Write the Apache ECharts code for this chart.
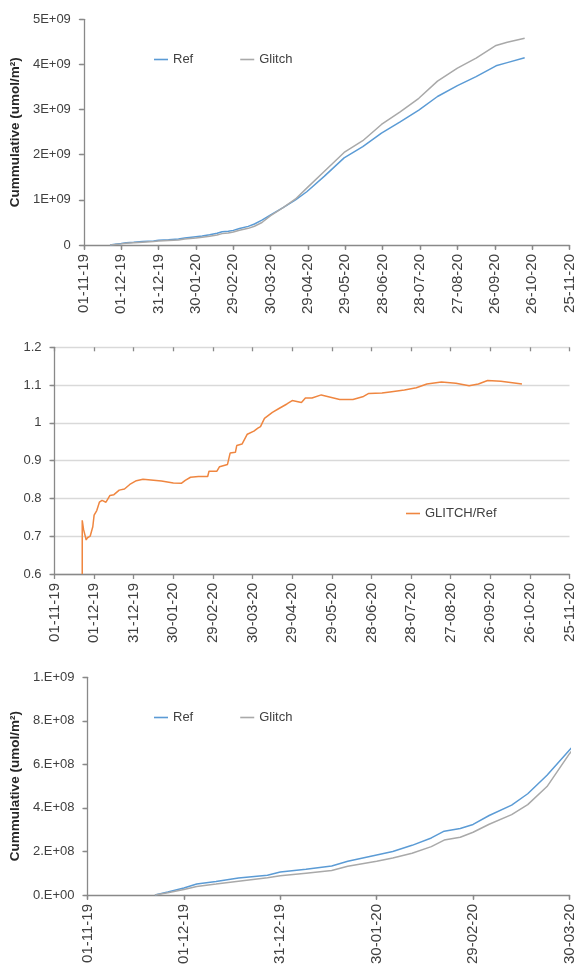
<!DOCTYPE html>
<html>
<head>
<meta charset="utf-8">
<script src="https://cdn.jsdelivr.net/npm/echarts@6/dist/echarts.min.js"></script>
<style>
  html, body { margin: 0; padding: 0; background: #fff; }
  #chart { width: 577px; height: 967px; }
</style>
</head>
<body>
<div id="chart"></div>
<script>
// Cumulative flux, Ref vs Glitch (umol/m2)
const cumDates = [
  '2019-11-22', '2019-11-26', '2019-12-01', '2019-12-05', '2019-12-11', '2019-12-18',
  '2019-12-27', '2019-12-31', '2020-01-08', '2020-01-16', '2020-01-21', '2020-01-30',
  '2020-02-04', '2020-02-10', '2020-02-16', '2020-02-20', '2020-02-25', '2020-02-29',
  '2020-03-05', '2020-03-12', '2020-03-17', '2020-03-23', '2020-03-30', '2020-04-09',
  '2020-04-19', '2020-04-28', '2020-05-12', '2020-05-28', '2020-06-12', '2020-06-27',
  '2020-07-12', '2020-07-27', '2020-08-11', '2020-08-27', '2020-09-11', '2020-09-27',
  '2020-10-06', '2020-10-20'
];
const refCum = [
  0, 1.4e7, 3.2e7, 5.0e7, 6.2e7, 7.8e7,
  9.1e7, 1.05e8, 1.18e8, 1.33e8, 1.55e8, 1.84e8,
  2.00e8, 2.28e8, 2.62e8, 2.93e8, 3.05e8, 3.24e8,
  3.65e8, 4.13e8, 4.65e8, 5.50e8, 6.66e8, 8.3e8,
  1.00e9, 1.18e9, 1.52e9, 1.93e9, 2.18e9, 2.48e9,
  2.73e9, 2.99e9, 3.29e9, 3.53e9, 3.73e9, 3.97e9,
  4.04e9, 4.15e9
];
const glitchCum = [
  0, 1.0e7, 2.5e7, 3.9e7, 5.0e7, 6.3e7,
  7.9e7, 8.8e7, 1.00e8, 1.12e8, 1.32e8, 1.55e8,
  1.70e8, 1.92e8, 2.22e8, 2.52e8, 2.65e8, 2.88e8,
  3.25e8, 3.69e8, 4.15e8, 4.98e8, 6.49e8, 8.3e8,
  1.02e9, 1.26e9, 1.63e9, 2.05e9, 2.31e9, 2.67e9,
  2.95e9, 3.25e9, 3.63e9, 3.92e9, 4.14e9, 4.42e9,
  4.49e9, 4.58e9
];

// Ratio GLITCH/Ref
const ratioDates = [
  '2019-11-22', '2019-11-22', '2019-11-23', '2019-11-24', '2019-11-25', '2019-11-26',
  '2019-11-28', '2019-11-29', '2019-11-30', '2019-12-01', '2019-12-03', '2019-12-05',
  '2019-12-07', '2019-12-10', '2019-12-13', '2019-12-16', '2019-12-20', '2019-12-24',
  '2019-12-28', '2020-01-02', '2020-01-07', '2020-01-13', '2020-01-21', '2020-01-30',
  '2020-02-05', '2020-02-08', '2020-02-12', '2020-02-18', '2020-02-25', '2020-02-26',
  '2020-03-03', '2020-03-05', '2020-03-11', '2020-03-13', '2020-03-17', '2020-03-18',
  '2020-03-22', '2020-03-26', '2020-03-31', '2020-04-03', '2020-04-05', '2020-04-08',
  '2020-04-14', '2020-04-19', '2020-04-25', '2020-04-29', '2020-05-06', '2020-05-09',
  '2020-05-14', '2020-05-21', '2020-05-28', '2020-06-04', '2020-06-14', '2020-06-22',
  '2020-06-26', '2020-07-06', '2020-07-12', '2020-07-23', '2020-08-01', '2020-08-09',
  '2020-08-20', '2020-08-31', '2020-09-10', '2020-09-17', '2020-09-24', '2020-10-04',
  '2020-10-20'
];
const ratioValues = [
  0.600, 0.742, 0.718, 0.720, 0.690, 0.696,
  0.700, 0.702, 0.725, 0.756, 0.768, 0.790,
  0.795, 0.790, 0.808, 0.810, 0.822, 0.825,
  0.837, 0.847, 0.851, 0.849, 0.846, 0.841,
  0.840, 0.848, 0.856, 0.858, 0.858, 0.872,
  0.872, 0.884, 0.890, 0.920, 0.922, 0.940,
  0.944, 0.970, 0.978, 0.986, 0.990, 1.012,
  1.028, 1.038, 1.050, 1.059, 1.054, 1.066,
  1.066, 1.074, 1.068, 1.062, 1.062, 1.070,
  1.078, 1.079, 1.082, 1.087, 1.093, 1.103,
  1.108, 1.105, 1.098, 1.103, 1.112, 1.110,
  1.103
];

// Axis tick labels
const cumTickLabels = ['0', '1E+09', '2E+09', '3E+09', '4E+09', '5E+09'];
const zoomTickLabels = ['0.E+00', '2.E+08', '4.E+08', '6.E+08', '8.E+08', '1.E+09'];

// Dates are placed on a day-count axis starting 01-11-19, ticked every 30 days
const DAY0 = Date.UTC(2019, 10, 1);
const DAY_MS = 86400000;
const dayOf = s => (Date.parse(s + 'T00:00:00Z') - DAY0) / DAY_MS;
const pad = n => (n < 10 ? '0' : '') + n;
const dayLabel = d => {
  const dt = new Date(DAY0 + Math.round(d) * DAY_MS);
  return pad(dt.getUTCDate()) + '-' + pad(dt.getUTCMonth() + 1) + '-' + pad(dt.getUTCFullYear() % 100);
};
const pairs = (dates, vals) => dates.map((d, i) => [dayOf(d), vals[i]]);

const TEXT = '#404040';
const AXIS = '#898989';
const FONT = 'Liberation Sans';
const REF_C = '#5b9bd5';
const GL_C = '#a9a9a9';
const RATIO_C = '#ef8640';

function xAxis(gridIndex, max) {
  return {
    type: 'value', gridIndex, min: 0, max, interval: 30,
    axisLine: { show: true, lineStyle: { color: AXIS, width: 1.3 } },
    axisTick: { show: true, length: 5, lineStyle: { color: AXIS, width: 1.3 } },
    axisLabel: {
      rotate: 90, margin: 9, color: TEXT, fontFamily: FONT, fontSize: 15,
      formatter: v => dayLabel(v)
    },
    splitLine: { show: false }
  };
}
function yAxis(gridIndex, min, max, interval, fmt, split, name) {
  return {
    type: 'value', gridIndex, min, max, interval,
    name: name || '', nameLocation: 'middle', nameGap: 52,
    nameTextStyle: { color: '#262626', fontFamily: FONT, fontSize: 13.5, fontWeight: 'bold' },
    axisLine: { show: true, lineStyle: { color: AXIS, width: 1.3 } },
    axisTick: { show: true, length: 5, lineStyle: { color: AXIS, width: 1.3 } },
    axisLabel: { margin: 13, color: TEXT, fontFamily: FONT, fontSize: 13, formatter: fmt },
    splitLine: { show: split, lineStyle: { color: '#d9d9d9', width: 1.3 } }
  };
}
// Inner half of each tick mark, so ticks cross the axis line
function innerTicks(base) {
  return Object.assign({}, base, {
    name: '',
    axisLine: { show: false },
    axisTick: { show: true, inside: true, length: 4, lineStyle: { color: AXIS, width: 1.3 } },
    axisLabel: { show: false },
    splitLine: { show: false }
  });
}
function line(name, xi, yi, data, color) {
  return {
    name, type: 'line', xAxisIndex: xi, yAxisIndex: yi, data,
    symbol: 'none', animation: false, clip: true,
    lineStyle: { color, width: 1.5 }, itemStyle: { color }
  };
}
const legendBase = {
  orient: 'horizontal', icon: 'rect', itemWidth: 14, itemHeight: 1.6,
  textStyle: { color: TEXT, fontFamily: FONT, fontSize: 13 }
};

const xAxes = [xAxis(0, 390), xAxis(1, 390), xAxis(2, 150)];
const yAxes = [
  yAxis(0, 0, 5e9, 1e9, v => cumTickLabels[Math.round(v / 1e9)], false, 'Cummulative (umol/m\u00b2)'),
  yAxis(1, 0.6, 1.2, 0.1, v => String(Number(v.toFixed(1))), true),
  yAxis(2, 0, 1e9, 2e8, v => zoomTickLabels[Math.round(v / 2e8)], false, 'Cummulative (umol/m\u00b2)')
];

const chart = echarts.init(document.getElementById('chart'), null, { renderer: 'canvas' });
chart.setOption({
  backgroundColor: '#ffffff',
  animation: false,
  grid: [
    { left: 83.5, right: 6.6, top: 19.3, height: 225.7 },
    { left: 54.5, right: 6.6, top: 347.3, height: 226.7 },
    { left: 83.5, right: 6.6, top: 677.3, height: 226 }
  ],
  xAxis: xAxes.concat(xAxes.map(innerTicks)),
  yAxis: yAxes.concat(yAxes.map(innerTicks)),
  legend: [
    Object.assign({}, legendBase, { left: 149, top: 48, itemGap: 47, data: ['Ref', 'Glitch'] }),
    Object.assign({}, legendBase, { left: 401, top: 502, data: ['GLITCH/Ref'] }),
    Object.assign({}, legendBase, { left: 149, top: 706, itemGap: 47, data: ['Ref', 'Glitch'] })
  ],
  series: [
    line('Ref', 0, 0, pairs(cumDates, refCum), REF_C),
    line('Glitch', 0, 0, pairs(cumDates, glitchCum), GL_C),
    line('GLITCH/Ref', 1, 1, pairs(ratioDates, ratioValues), RATIO_C),
    line('Ref', 2, 2, pairs(cumDates, refCum), REF_C),
    line('Glitch', 2, 2, pairs(cumDates, glitchCum), GL_C)
  ]
});
</script>
</body>
</html>
